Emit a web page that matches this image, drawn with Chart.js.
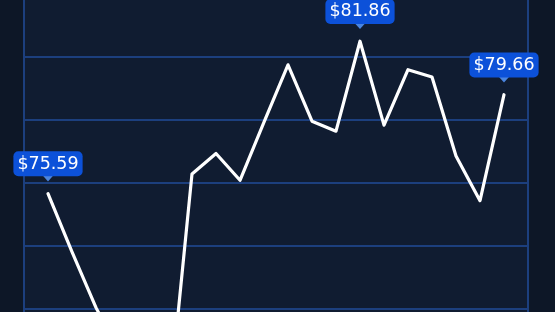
<!DOCTYPE html>
<html>
<head>
<meta charset="utf-8">
<script src="https://cdn.jsdelivr.net/npm/chart.js@4.4.1/dist/chart.umd.min.js"></script>
<style>
  html, body { margin: 0; padding: 0; width: 555px; height: 312px; overflow: hidden; background: #0d1727; }
  #wrap { position: absolute; left: 0; top: -40px; width: 555px; height: 560px; }
</style>
</head>
<body>
<div id="wrap"><canvas id="c"></canvas></div>
<script>
// ---- data ----
const days = ['1','2','3','4','5','6','7','8','9','10','11','12','13','14','15','16','17','18','19','20'];
const prices = [75.59, 73.19, 70.90, 69.00, 67.50, 66.50, 76.40, 77.24, 76.14, 78.53,
                80.89, 78.57, 78.16, 81.86, 78.41, 80.69, 80.39, 77.14, 75.30, 79.66];
const yMin = 63.09;
const yMax = 83.81;
const gridCount = 9;

const points = prices.map((v, i) => ({ x: i, y: v, label: days[i] }));

const gridColor = '#1c3f7e';

const areaBg = {
  id: 'areaBg',
  beforeDraw(chart) {
    const { ctx, chartArea: a } = chart;
    ctx.save();
    ctx.fillStyle = '#101c31';
    ctx.fillRect(a.left, a.top, a.right - a.left, a.bottom - a.top);
    ctx.restore();
  }
};

const priceLabels = {
  id: 'priceLabels',
  afterDatasetsDraw(chart) {
    const { ctx } = chart;
    const meta = chart.getDatasetMeta(0);
    const vals = chart.data.datasets[0].data.map(d => d.y);
    const maxIdx = vals.indexOf(Math.max(...vals));
    const idxs = [0, maxIdx, vals.length - 1];
    ctx.save();
    ctx.font = '17.5px "DejaVu Sans"';
    idxs.forEach(i => {
      const pt = meta.data[i];
      const text = '$' + vals[i].toFixed(2);
      const w = ctx.measureText(text).width + 8;
      const h = 25;
      const bottom = pt.y - 17.3;
      const bx = pt.x - w / 2, by = bottom - h;
      // arrow
      ctx.fillStyle = '#4a85e0';
      ctx.beginPath();
      ctx.moveTo(pt.x - 5, bottom - 0.5);
      ctx.lineTo(pt.x + 5, bottom - 0.5);
      ctx.lineTo(pt.x, pt.y - 12.2);
      ctx.closePath();
      ctx.fill();
      // box
      ctx.fillStyle = '#0c51d9';
      ctx.beginPath();
      ctx.roundRect(bx, by, w, h, 5);
      ctx.fill();
      // text
      ctx.fillStyle = '#ffffff';
      ctx.textAlign = 'center';
      ctx.textBaseline = 'middle';
      ctx.fillText(text, pt.x, by + h / 2 + 0.5);
    });
    ctx.restore();
  }
};

new Chart(document.getElementById('c'), {
  type: 'line',
  data: {
    labels: days,
    datasets: [{
      data: points,
      borderColor: '#ffffff',
      borderWidth: 3.2,
      borderJoinStyle: 'round',
      borderCapStyle: 'round',
      pointRadius: 0,
      tension: 0,
      fill: false
    }]
  },
  options: {
    responsive: true,
    maintainAspectRatio: false,
    animation: false,
    layout: { padding: { top: 33.85, bottom: 22.55, left: 24, right: 27 } },
    plugins: { legend: { display: false }, tooltip: { enabled: false } },
    scales: {
      x: { type: 'linear', min: -1, max: 20, display: false },
      y: {
        min: yMin, max: yMax,
        ticks: { display: false, count: gridCount },
        grid: { color: gridColor, lineWidth: 2, drawTicks: false },
        border: { display: true, color: gridColor, width: 2 }
      },
      y2: {
        position: 'right', display: true,
        min: yMin, max: yMax,
        ticks: { display: false },
        grid: { display: false, drawTicks: false },
        border: { display: true, color: gridColor, width: 2 }
      }
    }
  },
  plugins: [areaBg, priceLabels]
});
</script>
</body>
</html>
